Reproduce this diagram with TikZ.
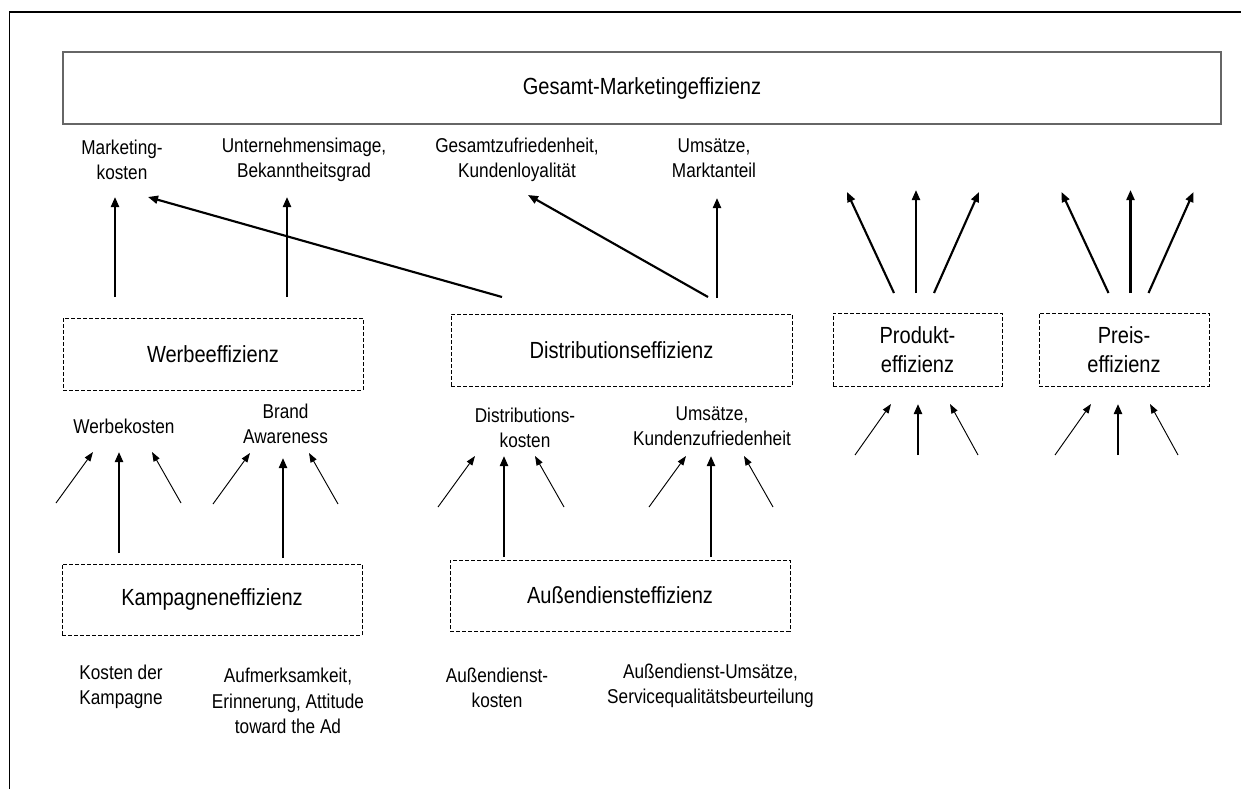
\documentclass[tikz,border=0pt]{standalone}
\usepackage{fontspec}
\setmainfont{Liberation Sans}[FakeStretch=0.86]
\usetikzlibrary{arrows.meta}

\newlength{\px}
\setlength{\px}{0.75pt}

\begin{document}
\begin{tikzpicture}[x=0.75pt, y=-0.75pt,
    lbl/.style={align=center, inner sep=0pt, font=\fontsize{15}{19}\selectfont},
    mainbox/.style={draw=black!60, line width=1pt, inner sep=0pt, outer sep=0pt,
      font=\fontsize{17.5}{22}\selectfont},
    effbox/.style={draw, line width=0.6pt, dash pattern=on 3pt off 1.5pt,
      minimum height=72\px, inner sep=0pt, outer sep=0pt, align=center,
      font=\fontsize{17.5}{22}\selectfont},
    fat/.style={line width=1.6pt, -{Triangle[length=7.5pt,width=6pt]}},
    thinarr/.style={line width=0.7pt, -{Triangle[length=7pt,width=5pt]}}]
  \useasboundingbox (0,0) rectangle (1241,789);

  % frame
  \draw[line width=0.8pt] (9.5,789) -- (9.5,12) -- (1241,12);

  % efficiency boxes
  \node[mainbox, minimum width=1158\px, minimum height=72\px] (gesamt) at (642,88) {Gesamt-Marketingeffizienz};
  \node[effbox, minimum width=300\px] (werbe) at (213,354) {Werbeeffizienz};
  \node[effbox, minimum width=341\px] (distri) at (621.5,350) {Distributionseffizienz};
  \node[effbox, minimum width=169\px, minimum height=73\px] (produkt) at (917.5,349.5) {Produkt-\\effizienz};
  \node[effbox, minimum width=170\px, minimum height=73\px] (preis) at (1124,349.5) {Preis-\\effizienz};
  \node[effbox, minimum width=300\px, minimum height=71\px] (kampagne) at (212,599.5) {Kampagneneffizienz};
  \node[effbox, minimum width=340\px, minimum height=71\px] (aussen) at (620,595.5) {Außendiensteffizienz};

  % measures
  \node[lbl] (mkosten) at (122,160) {Marketing-\\kosten};
  \node[lbl] (image) at (304,160) {Unternehmensimage,\\Bekanntheitsgrad};
  \node[lbl] (zufried) at (517,160) {Gesamtzufriedenheit,\\Kundenloyalität};
  \node[lbl] (markt) at (714,158) {Umsätze,\\Marktanteil};
  \node[lbl] (wkosten) at (124,426) {Werbekosten};
  \node[lbl] (brand) at (285.5,424) {Brand\\Awareness};
  \node[lbl] (dkosten) at (525,428) {Distributions-\\kosten};
  \node[lbl] (kzufried) at (712,426) {Umsätze,\\Kundenzufriedenheit};
  \node[lbl] (kkosten) at (121,687) {Kosten der\\Kampagne};
  \node[lbl] (aufmerk) at (288,701) {Aufmerksamkeit,\\Erinnerung, Attitude\\toward the Ad};
  \node[lbl] (akosten) at (497,688) {Außendienst-\\kosten};
  \node[lbl] (aumsatz) at (710.5,686) {Außendienst-Umsätze,\\Servicequalitätsbeurteilung};

  % upper level
  \draw[fat] ([shift={(-98,-21)}]werbe.north) -- ([shift={(-7,37)}]mkosten.center);
  \draw[fat] ([shift={(74,-21)}]werbe.north) -- ([shift={(-17,37)}]image.center);
  \draw[fat] ([shift={(-119.5,-17)}]distri.north) -- ([shift={(26,37)}]mkosten.center);
  \draw[fat] ([shift={(86.5,-17)}]distri.north) -- ([shift={(11,35)}]zufried.center);
  \draw[fat] ([shift={(95.5,-16)}]distri.north) -- ([shift={(3,40)}]markt.center);

  % product and price fans
  \foreach \b/\ot/\ob in {produkt/0/0, preis/8/-6.5} {
    \draw[fat] ([shift={({-23.5+\ot},-20)}]\b.north) -- ++(-47,-101);
    \draw[fat] ([shift={({-1.5+\ot},-20)}]\b.north) -- ++(0,-103);
    \draw[fat] ([shift={({16.5+\ot},-20)}]\b.north) -- ++(45,-101);
    \draw[thinarr] ([shift={({-62.5+\ob},69)}]\b.south) -- ++(36,-51);
    \draw[fat] ([shift={({0.5+\ob},69)}]\b.south) -- ++(0,-51);
    \draw[thinarr] ([shift={({60.5+\ob},69)}]\b.south) -- ++(-28,-51);
  }

  % lower level
  \draw[fat] ([shift={(-93,-11)}]kampagne.north) -- ([shift={(-5,26)}]wkosten.center);
  \draw[fat] ([shift={(71,-6)}]kampagne.north) -- ([shift={(-2.5,34)}]brand.center);
  \draw[fat] ([shift={(-116,-3)}]aussen.north) -- ([shift={(-21,28)}]dkosten.center);
  \draw[fat] ([shift={(91,-3)}]aussen.north) -- ([shift={(-1,30)}]kzufried.center);
  \foreach \n/\l/\r/\dy in {wkosten/-68/57/77, brand/-72.5/52.5/80,
      dkosten/-87/39/79, kzufried/-63/61/81} {
    \draw[thinarr] ([shift={(\l,\dy)}]\n.center) -- ++(37,-51);
    \draw[thinarr] ([shift={(\r,\dy)}]\n.center) -- ++(-29,-51);
  }
\end{tikzpicture}
\end{document}
